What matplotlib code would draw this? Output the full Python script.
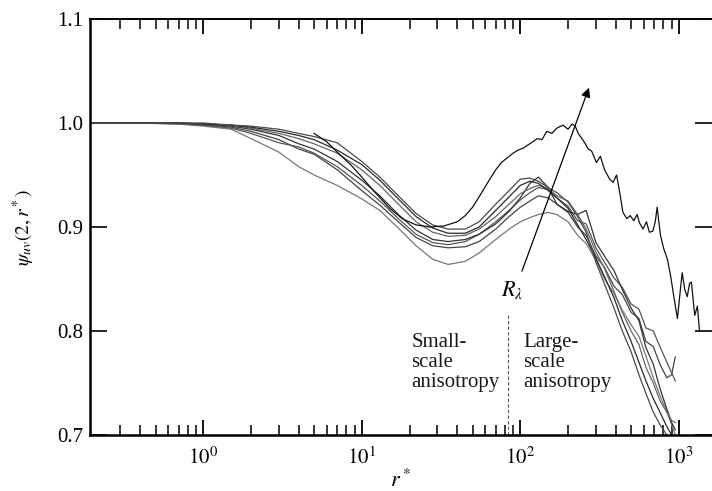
import matplotlib
matplotlib.use("Agg")
import matplotlib.pyplot as plt
from matplotlib.ticker import FixedLocator, FixedFormatter, NullFormatter

plt.rcParams['font.family'] = ['Liberation Serif', 'DejaVu Serif']
plt.rcParams['mathtext.fontset'] = 'stix'

# ---- data ----
r_bundle = [0.2, 0.4, 0.7, 1.0, 1.5, 2, 3, 4, 5, 7, 10, 13, 17, 22, 28, 35, 45, 55, 70, 85,
            100, 115, 130, 150, 170, 200, 230, 260, 300, 340, 390, 440, 500, 560, 620, 690,
            760, 840, 900, 950]

psi_1 = [1.0, 1.0, 0.999, 0.997, 0.994, 0.985, 0.972, 0.958, 0.950, 0.940, 0.927, 0.916, 0.899,
         0.882, 0.869, 0.864, 0.867, 0.875, 0.888, 0.898, 0.905, 0.909, 0.912, 0.914, 0.912,
         0.905, 0.892, 0.884, 0.868, 0.850, 0.836, 0.820, 0.806, 0.795, 0.776, 0.755, 0.738,
         0.722, 0.710, 0.700]
psi_2 = [1.0, 1.0, 1.0, 0.998, 0.996, 0.992, 0.984, 0.975, 0.970, 0.955, 0.935, 0.921, 0.905,
         0.890, 0.882, 0.880, 0.881, 0.886, 0.898, 0.910, 0.919, 0.925, 0.930, 0.928, 0.922,
         0.914, 0.900, 0.892, 0.872, 0.861, 0.843, 0.835, 0.818, 0.812, 0.790, 0.785, 0.768,
         0.755, 0.758, 0.775]
psi_3 = [1.0, 1.0, 0.999, 0.998, 0.995, 0.990, 0.981, 0.977, 0.971, 0.958, 0.940, 0.925, 0.908,
         0.893, 0.885, 0.883, 0.886, 0.893, 0.905, 0.916, 0.926, 0.933, 0.938, 0.936, 0.928,
         0.920, 0.906, 0.903, 0.880, 0.866, 0.851, 0.842, 0.826, 0.821, 0.803, 0.800, 0.785,
         0.770, 0.760, 0.752]
psi_4 = [1.0, 1.0, 1.0, 0.999, 0.997, 0.994, 0.988, 0.980, 0.975, 0.963, 0.945, 0.930, 0.912,
         0.897, 0.888, 0.886, 0.888, 0.893, 0.903, 0.915, 0.928, 0.942, 0.948, 0.938, 0.922,
         0.915, 0.912, 0.916, 0.885, 0.872, 0.858, 0.840, 0.822, 0.810, 0.784, 0.768, 0.745,
         0.725, 0.712, 0.705]
psi_5 = [1.0, 1.0, 1.0, 0.999, 0.998, 0.995, 0.990, 0.985, 0.980, 0.971, 0.955, 0.940, 0.922,
         0.905, 0.895, 0.891, 0.892, 0.898, 0.910, 0.922, 0.932, 0.937, 0.940, 0.937, 0.930,
         0.925, 0.912, 0.898, 0.876, 0.860, 0.838, 0.818, 0.800, 0.787, 0.765, 0.750, 0.733,
         0.722, 0.714, 0.712]
psi_6 = [1.0, 1.0, 1.0, 0.999, 0.998, 0.996, 0.992, 0.988, 0.984, 0.974, 0.960, 0.945, 0.927,
         0.910, 0.899, 0.894, 0.894, 0.900, 0.916, 0.929, 0.940, 0.944, 0.942, 0.935, 0.928,
         0.918, 0.902, 0.888, 0.870, 0.852, 0.832, 0.810, 0.790, 0.770, 0.752, 0.735, 0.722,
         0.708, 0.700, 0.695]
psi_7 = [1.0, 1.0, 1.0, 1.0, 0.998, 0.997, 0.994, 0.990, 0.987, 0.981, 0.963, 0.948, 0.930,
         0.913, 0.902, 0.898, 0.898, 0.905, 0.922, 0.935, 0.946, 0.947, 0.944, 0.938, 0.933,
         0.924, 0.910, 0.895, 0.866, 0.845, 0.822, 0.800, 0.780, 0.758, 0.740, 0.722, 0.710,
         0.700, 0.692, 0.688]

r_high = [5, 6, 7, 8.5, 10, 12, 15, 18, 22, 27, 33, 40, 45, 50, 56, 63, 70, 76, 82, 90, 97,
          105, 112, 120, 128, 137, 147, 158, 170, 186, 200, 212, 222, 232, 242, 255, 268, 282,
          302, 320, 340, 366, 385, 405, 425, 444, 470, 493, 520, 545, 565, 594, 625, 652, 685,
          710, 730, 764, 800, 847, 890, 930, 980, 1020, 1050, 1090, 1130, 1170, 1200, 1260,
          1310, 1350]
psi_high = [0.990, 0.982, 0.972, 0.960, 0.948, 0.934, 0.918, 0.908, 0.902, 0.900, 0.901, 0.905,
            0.911, 0.919, 0.931, 0.944, 0.955, 0.962, 0.966, 0.971, 0.974, 0.976, 0.979, 0.982,
            0.985, 0.984, 0.992, 0.990, 0.995, 0.998, 0.994, 0.999, 0.997, 0.990, 0.986, 0.981,
            0.975, 0.973, 0.962, 0.968, 0.955, 0.946, 0.943, 0.950, 0.932, 0.914, 0.908, 0.911,
            0.906, 0.912, 0.904, 0.898, 0.905, 0.895, 0.896, 0.905, 0.919, 0.893, 0.880, 0.869,
            0.852, 0.833, 0.812, 0.838, 0.856, 0.840, 0.833, 0.846, 0.847, 0.815, 0.824, 0.800]

bundle = [psi_1, psi_2, psi_3, psi_4, psi_5, psi_6, psi_7]
bundle_colors = ['#777777', '#444444', '#555555', '#333333', '#666666', '#2a2a2a', '#4a4a4a']

x_major = [1, 10, 100, 1000]
x_major_labels = [r'$10^0$', r'$10^1$', r'$10^2$', r'$10^3$']
y_ticks = [0.7, 0.8, 0.9, 1.0, 1.1]
y_tick_labels = ['0.7', '0.8', '0.9', '1.0', '1.1']
x_minor = [m * d for d in [0.1, 1, 10, 100] for m in range(2, 10) if m * d >= 0.3]

# ---- figure ----
fig = plt.figure(figsize=(7.12, 4.91), dpi=100)
ax = fig.add_axes([90 / 712, 56 / 491, 622 / 712, 416 / 491])
ax.set_xscale('log')
ax.set_xlim(0.193, 1619)
ax.set_ylim(0.7, 1.1)

for psi, c in zip(bundle, bundle_colors):
    ax.plot(r_bundle, psi, color=c, lw=0.9)
ax.plot(r_high, psi_high, color='#111111', lw=0.9)

# dashed separator
ax.plot([84, 84], [0.7, 0.817], color='#555555', lw=0.8, ls=(0, (3, 2)))

# R_lambda arrow
ax.annotate('', xy=(275, 1.0365), xytext=(101, 0.855),
            arrowprops=dict(arrowstyle='-|>', color='black', lw=0.9, mutation_scale=14))
ax.text(89, 0.839, r'$R_\lambda$', fontsize=16, ha='center', va='center')

ax.text(20.6, 0.798, 'Small-\nscale\nanisotropy', fontsize=15, ha='left', va='top',
        linespacing=1.08, color='#1a1a1a')
ax.text(104, 0.798, 'Large-\nscale\nanisotropy', fontsize=15, ha='left', va='top',
        linespacing=1.08, color='#1a1a1a')

# axes styling
ax.spines['right'].set_visible(False)
for s in ['left', 'bottom']:
    ax.spines[s].set_linewidth(1.8)
ax.spines['top'].set_linewidth(1.4)

ax.xaxis.set_major_locator(FixedLocator(x_major))
ax.xaxis.set_major_formatter(FixedFormatter(x_major_labels))
ax.xaxis.set_minor_locator(FixedLocator(x_minor))
ax.xaxis.set_minor_formatter(NullFormatter())
ax.tick_params(axis='x', which='major', direction='in', length=11, width=1.3,
               top=True, bottom=True, labelsize=15, pad=9)
ax.tick_params(axis='x', which='minor', direction='in', length=7, width=1.1,
               top=True, bottom=True)

ax.yaxis.set_major_locator(FixedLocator(y_ticks))
ax.yaxis.set_major_formatter(FixedFormatter(y_tick_labels))
ax.tick_params(axis='y', which='major', direction='in', length=12, width=1.2,
               left=True, right=True, labelsize=15, pad=5)
ax.tick_params(axis='y', which='minor', left=False, right=False)

ax.set_xlabel(r'$r^*$', fontsize=16, labelpad=0)
ax.set_ylabel(r'$\psi_{uv}(2,r^*)$', fontsize=14, labelpad=14)

fig.savefig('out.png', dpi=100)
